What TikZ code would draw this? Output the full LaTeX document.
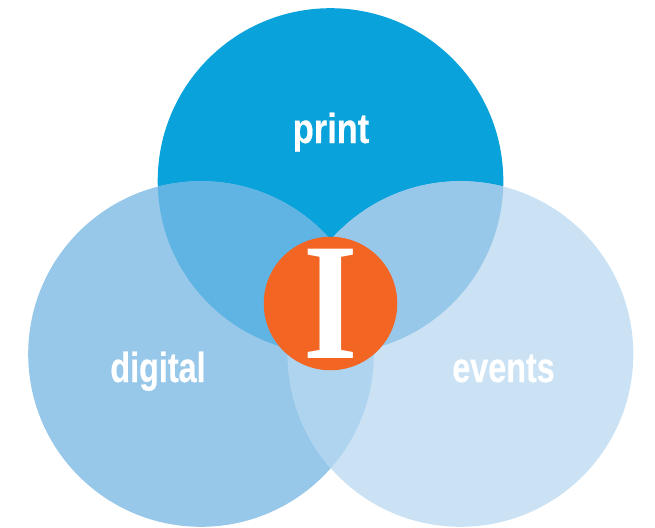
\documentclass[tikz,border=0pt]{standalone}
\usepackage{graphicx}
\usepackage{fontspec}
\setmainfont{Liberation Sans}[BoldFeatures={FakeBold=0.5}]
\newfontfamily\serifI{Liberation Serif}
\definecolor{cprint}{HTML}{09A2DB}
\definecolor{cdigital}{HTML}{97C8EA}
\definecolor{cevents}{HTML}{CAE2F4}
\definecolor{cpd}{HTML}{60B4E3}
\definecolor{cpe}{HTML}{97C8EA}
\definecolor{cde}{HTML}{AED4EF}
\definecolor{corange}{HTML}{F26522}
\newcommand{\lbltext}[2][.77]{\scalebox{#1}[1]{\fontsize{42}{44}\selectfont\bfseries #2}}
\tikzset{lbl/.style={text=white,inner sep=0pt,anchor=base}}
\begin{document}
\begin{tikzpicture}[x=1pt,y=-1pt]
\useasboundingbox (0,0) rectangle (655,527);
\coordinate (P) at (330.5,181);
\coordinate (D) at (201,354);
\coordinate (E) at (460.5,354);
\def\R{172.8}
\fill[cprint] (P) circle (\R);
\fill[cdigital] (D) circle (\R);
\fill[cevents] (E) circle (\R);
\begin{scope}\clip (P) circle (\R); \fill[cpe] (E) circle (\R); \end{scope}
\begin{scope}\clip (P) circle (\R); \fill[cpd] (D) circle (\R); \end{scope}
\begin{scope}\clip (D) circle (\R); \fill[cde] (E) circle (\R); \end{scope}
\node[circle,fill=corange,minimum size=133.5,inner sep=0pt] (core) at (330.5,303.5) {};
\node[text=white,inner sep=0pt,anchor=center] (i) at (330.5,303.5) {\scalebox{.84}[1]{\serifI\bfseries\fontsize{167}{167}\selectfont I}};
\node[lbl] (print) at (331,143) {\lbltext[.82]{print}};
\node[lbl] (digital) at (158,382) {\lbltext{digital}};
\node[lbl] (events) at (503.5,382) {\lbltext{events}};
\end{tikzpicture}
\end{document}
